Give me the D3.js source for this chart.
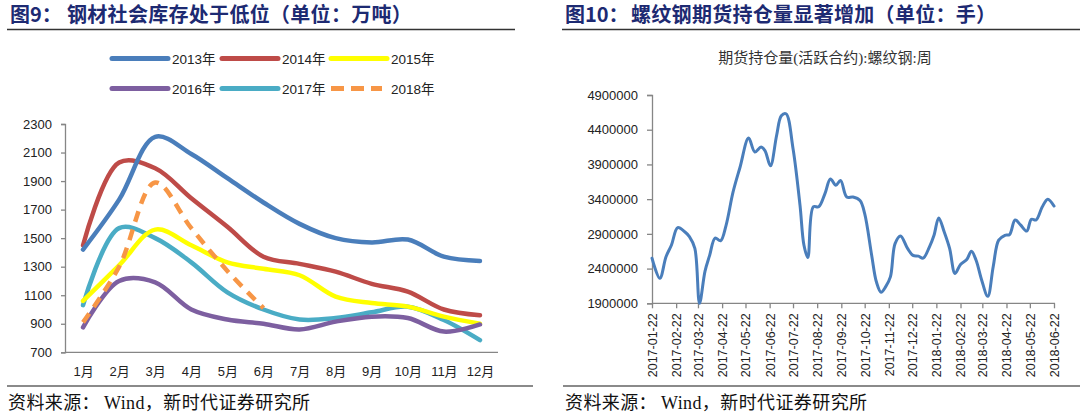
<!DOCTYPE html>
<html><head><meta charset="utf-8">
<script src="https://cdn.jsdelivr.net/npm/d3@7"></script>
<style>
html,body{margin:0;padding:0;background:#fff;}
svg{display:block;}
</style></head>
<body>
<svg id="c" width="1080" height="417"></svg>
<script>
// ---------- Left chart data (万吨) ----------
const months = ["1月","2月","3月","4月","5月","6月","7月","8月","9月","10月","11月","12月"];
const yearNames = ["2013年","2014年","2015年","2016年","2017年","2018年"];
const inv2013 = [1420,1770,2210,2090,1920,1750,1600,1500,1470,1490,1370,1340];
const inv2014 = [1450,2030,1990,1780,1580,1370,1320,1265,1180,1125,1000,960];
const inv2015 = [1060,1310,1560,1450,1330,1285,1240,1090,1045,1020,950,900];
const inv2016 = [875,1200,1190,1000,930,900,860,915,950,940,845,895];
const inv2017 = [1030,1570,1500,1330,1120,1000,930,940,980,1020,926,785];
const inv2018 = [910,1300,1890,1570,1270,1010];
const leftTicks = [700,900,1100,1300,1500,1700,1900,2100,2300];

// ---------- Right chart data (手) ----------
const oiDates = ["2017-01-22","2017-02-01","2017-02-09","2017-02-16","2017-02-24","2017-03-05","2017-03-11","2017-03-18","2017-03-24","2017-03-31",
"2017-04-06","2017-04-13","2017-04-20","2017-04-27","2017-05-06","2017-05-15","2017-05-26","2017-06-03","2017-06-11","2017-06-16",
"2017-06-23","2017-07-01","2017-07-07","2017-07-13","2017-07-22","2017-07-31","2017-08-05","2017-08-10","2017-08-17","2017-08-24",
"2017-09-01","2017-09-08","2017-09-15","2017-09-21","2017-09-29","2017-10-07","2017-10-16","2017-10-22","2017-10-31","2017-11-06",
"2017-11-12","2017-11-18","2017-11-24","2017-11-30","2017-12-07","2017-12-16","2017-12-23","2017-12-30","2018-01-05","2018-01-13",
"2018-01-19","2018-01-25","2018-02-01","2018-02-08","2018-02-15","2018-02-22","2018-03-02","2018-03-08","2018-03-14","2018-03-21",
"2018-03-29","2018-04-05","2018-04-12","2018-04-20","2018-04-26","2018-05-03","2018-05-10","2018-05-18","2018-05-24","2018-05-30",
"2018-06-07","2018-06-14","2018-06-22"];
const oiValues = [2550000,2260000,2570000,2740000,2990000,2930000,2860000,2690000,1900000,2360000,
2590000,2840000,2800000,3020000,3500000,3860000,4280000,4080000,4150000,4100000,
3880000,4320000,4600000,4630000,4130000,3310000,2740000,2560000,3290000,3290000,
3480000,3690000,3600000,3670000,3430000,3430000,3380000,3190000,2590000,2210000,
2060000,2140000,2280000,2760000,2870000,2690000,2590000,2580000,2550000,2710000,
2880000,3130000,2930000,2690000,2330000,2460000,2530000,2650000,2520000,2240000,
2000000,2430000,2810000,2880000,2890000,3100000,3030000,2940000,3110000,3100000,
3290000,3400000,3300000];
const rightTicks = [1900000,2400000,2900000,3400000,3900000,4400000,4900000];
const rightTickDates = ["2017-01-22","2017-02-22","2017-03-22","2017-04-22","2017-05-22","2017-06-22","2017-07-22","2017-08-22","2017-09-22",
"2017-10-22","2017-11-22","2017-12-22","2018-01-22","2018-02-22","2018-03-22","2018-04-22","2018-05-22","2018-06-22"];

// ---------- drawing ----------
const svg = d3.select("#c");
const titleColor = "#1d2a72";
const cjkBold = "'Noto Sans CJK SC', sans-serif";
const serifFont = "'Liberation Serif', 'Noto Sans CJK SC', serif";
const axisFont = "'Liberation Sans', 'Noto Sans CJK SC', sans-serif";
const axisGray = "#868686";

// Titles
function title(x1, prefix, x2, body) {
  svg.append("text").attr("x", x1).attr("y", 22).attr("font-family", cjkBold).attr("font-weight", "bold")
    .attr("font-size", 20).attr("fill", titleColor).text(prefix);
  svg.append("text").attr("x", x2).attr("y", 22).attr("font-family", cjkBold).attr("font-weight", "bold")
    .attr("font-size", 20).attr("letter-spacing", 0.3).attr("fill", titleColor).text(body);
}
title(10, "图9：", 67, "钢材社会库存处于低位（单位：万吨）");
title(565, "图10：", 631, "螺纹钢期货持仓量显著增加（单位：手）");
svg.append("line").attr("x1", 7).attr("x2", 515).attr("y1", 29.5).attr("y2", 29.5).attr("stroke", "#333").attr("stroke-width", 1.5);
svg.append("line").attr("x1", 562).attr("x2", 1080).attr("y1", 29.5).attr("y2", 29.5).attr("stroke", "#333").attr("stroke-width", 1.5);

// Footers
svg.append("line").attr("x1", 7).attr("x2", 533).attr("y1", 386).attr("y2", 386).attr("stroke", "#8a8a8a").attr("stroke-width", 2);
svg.append("line").attr("x1", 563).attr("x2", 1080).attr("y1", 386).attr("y2", 386).attr("stroke", "#8a8a8a").attr("stroke-width", 2);
function footer(x) {
  const t = svg.append("text").attr("x", x).attr("y", 409).attr("font-family", serifFont).attr("font-size", 18)
    .attr("letter-spacing", 0.4).attr("fill", "#111");
  t.append("tspan").text("资料来源：");
  t.append("tspan").attr("dx", 4).text("Wind，新时代证券研究所");
}
footer(8);
footer(565);

// ---------- Left chart ----------
const lx = d3.scalePoint().domain(months).range([65, 498]).padding(0.5);
const ly = d3.scaleLinear().domain([700, 2300]).range([352.3, 124]);

const gy = svg.append("g").attr("transform", "translate(65,0)")
  .call(d3.axisLeft(ly).tickValues(leftTicks).tickSize(4).tickPadding(9).tickFormat(d3.format("d")));
gy.select(".domain").attr("stroke", axisGray).attr("stroke-width", 1.3);
gy.selectAll(".tick line").attr("stroke", axisGray).attr("stroke-width", 1.3);
gy.selectAll("text").attr("font-family", axisFont).attr("font-size", 13).attr("fill", "#222");

const gx = svg.append("g").attr("transform", "translate(0,352.3)")
  .call(d3.axisBottom(lx).tickSize(0).tickPadding(14));
gx.select(".domain").attr("stroke", axisGray).attr("stroke-width", 1.3).attr("d", "M65,0H498");
gx.selectAll("text").attr("font-family", axisFont).attr("font-size", 13).attr("fill", "#222");

const series = [
  {name: yearNames[0], vals: inv2013, color: "#4a7ebb", dash: null},
  {name: yearNames[1], vals: inv2014, color: "#be4b48", dash: null},
  {name: yearNames[2], vals: inv2015, color: "#ffff00", dash: null},
  {name: yearNames[3], vals: inv2016, color: "#7d5fa0", dash: null},
  {name: yearNames[4], vals: inv2017, color: "#4aacc5", dash: null},
  {name: yearNames[5], vals: inv2018, color: "#f79646", dash: "11,8"}
];
const lline = d3.line().x((d, i) => lx(months[i])).y(d => ly(d)).curve(d3.curveCatmullRom.alpha(0.5));
const drawOrder = [4, 2, 3, 1, 0, 5];
drawOrder.forEach(k => {
  const s = series[k];
  svg.append("path").attr("d", lline(s.vals)).attr("fill", "none").attr("stroke", s.color)
    .attr("stroke-width", 4.5).attr("stroke-linejoin", "round").attr("stroke-linecap", s.dash ? "butt" : "round")
    .attr("stroke-dasharray", s.dash);
});

// Legend
const legPos = [[112, 58.5], [222, 58.5], [331, 58.5], [112, 88.5], [222, 88.5], [331, 88.5]];
series.forEach((s, i) => {
  const [x, y] = legPos[i];
  svg.append("line").attr("x1", x).attr("x2", x + (s.dash ? 51 : 56)).attr("y1", y).attr("y2", y)
    .attr("stroke", s.color).attr("stroke-width", 5).attr("stroke-linecap", s.dash ? "butt" : "round")
    .attr("stroke-dasharray", s.dash ? "13,7" : null);
  svg.append("text").attr("x", x + 60).attr("y", y + 5).attr("font-family", axisFont).attr("font-size", 13.5)
    .attr("fill", "#222").text(s.name);
});

// ---------- Right chart ----------
const parse = d3.utcParse("%Y-%m-%d");
const rx = d3.scaleUtc().domain([parse("2017-01-22"), parse("2018-06-22")]).range([652, 1054]);
const ry = d3.scaleLinear().domain([1900000, 4900000]).range([303.3, 95]);

svg.append("text").attr("x", 825).attr("y", 63).attr("text-anchor", "middle").attr("font-family", serifFont)
  .attr("font-size", 15).attr("fill", "#333").text("期货持仓量(活跃合约):螺纹钢:周");

const ryAx = svg.append("g").attr("transform", "translate(652,0)")
  .call(d3.axisLeft(ry).tickValues(rightTicks).tickSize(5).tickPadding(9).tickFormat(d3.format("d")));
ryAx.select(".domain").attr("stroke", axisGray).attr("stroke-width", 1.3);
ryAx.selectAll(".tick line").attr("stroke", axisGray).attr("stroke-width", 1.3);
ryAx.selectAll("text").attr("font-family", axisFont).attr("font-size", 13).attr("fill", "#222");

const rxAx = svg.append("g").attr("transform", "translate(0,303.3)")
  .call(d3.axisBottom(rx).tickValues(rightTickDates.map(parse)).tickSize(5).tickPadding(0).tickFormat(d3.utcFormat("%Y-%m-%d")));
rxAx.select(".domain").attr("stroke", axisGray).attr("stroke-width", 1.3).attr("d", "M652,0H1055");
rxAx.selectAll(".tick line").attr("stroke", axisGray).attr("stroke-width", 1.3);
rxAx.selectAll("text").attr("font-family", axisFont).attr("font-size", 12.5).attr("fill", "#222")
  .attr("transform", "rotate(-90)").attr("text-anchor", "end").attr("dy", "0.35em").attr("x", -10).attr("y", 0);

const rdata = oiDates.map((d, i) => ({date: parse(d), v: oiValues[i]}));
const rline = d3.line().x(d => rx(d.date)).y(d => ry(d.v)).curve(d3.curveCatmullRom.alpha(0.5));
svg.append("path").attr("d", rline(rdata)).attr("fill", "none").attr("stroke", "#4a7ebb")
  .attr("stroke-width", 3).attr("stroke-linejoin", "round").attr("stroke-linecap", "round");
</script>
</body></html>
